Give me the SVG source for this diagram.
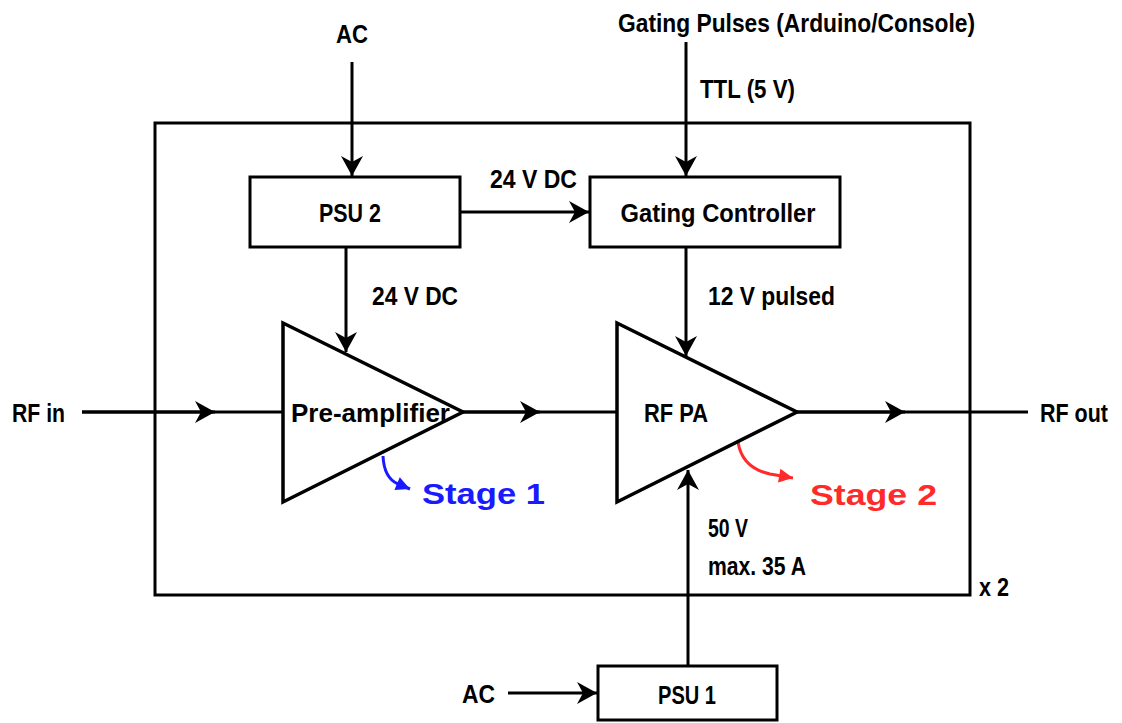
<svg xmlns="http://www.w3.org/2000/svg" width="1122" height="723" viewBox="0 0 1122 723">
  <style>
    .box { fill: #ffffff; stroke: #000000; stroke-width: 3; }
    .frame { fill: none; stroke: #000000; stroke-width: 3; }
    .amp { fill: #ffffff; stroke: #000000; stroke-width: 3.5; stroke-linejoin: miter; }
    .wire { fill: none; stroke: #000000; stroke-width: 3; }
    .lbl { font-family: "Liberation Sans Narrow", "Liberation Sans", Arial, sans-serif; font-weight: bold; font-size: 26px; fill: #000000; }
    .stage { font-family: "Liberation Sans", Arial, sans-serif; font-weight: bold; font-size: 30px; }
  </style>
  <defs>
    <marker id="head" viewBox="-22 -12 24 24" markerWidth="24" markerHeight="24" refX="0" refY="0" orient="auto" markerUnits="userSpaceOnUse">
      <path d="M0,0 L-20,-11 L-14,0 L-20,11 Z" fill="#000000"/>
    </marker>
    <marker id="headBlue" viewBox="-16 -8 18 16" markerWidth="18" markerHeight="16" refX="0" refY="0" orient="auto" markerUnits="userSpaceOnUse">
      <path d="M0,0 L-14,-7 L-14,7 Z" fill="#1a1aff"/>
    </marker>
    <marker id="headRed" viewBox="-16 -8 18 16" markerWidth="18" markerHeight="16" refX="0" refY="0" orient="auto" markerUnits="userSpaceOnUse">
      <path d="M0,0 L-14,-7 L-14,7 Z" fill="#ff2a2a"/>
    </marker>
  </defs>

  <!-- enclosure, repeated twice -->
  <g id="enclosure">
    <rect class="frame" x="155" y="123" width="815" height="472"/>
    <text class="lbl" x="979" y="596" textLength="30" lengthAdjust="spacingAndGlyphs">x 2</text>
  </g>

  <!-- signal and supply connectors -->
  <g id="connectors">
    <!-- AC into PSU 2 -->
    <line class="wire" x1="352" y1="62" x2="352" y2="176" marker-end="url(#head)"/>
    <!-- gating pulses into controller -->
    <line class="wire" x1="686" y1="42" x2="686" y2="176" marker-end="url(#head)"/>
    <!-- PSU 2 to gating controller -->
    <line class="wire" x1="460" y1="212" x2="589" y2="212" marker-end="url(#head)"/>
    <!-- PSU 2 to pre-amplifier -->
    <line class="wire" x1="346" y1="247" x2="346" y2="352" marker-end="url(#head)"/>
    <!-- gating controller to RF PA -->
    <line class="wire" x1="686" y1="247" x2="686" y2="356" marker-end="url(#head)"/>
    <!-- RF path -->
    <line class="wire" x1="82" y1="412" x2="283" y2="412"/>
    <line class="wire" x1="82" y1="412" x2="215" y2="412" marker-end="url(#head)"/>
    <line class="wire" x1="463" y1="412" x2="617" y2="412"/>
    <line class="wire" x1="463" y1="412" x2="540" y2="412" marker-end="url(#head)"/>
    <line class="wire" x1="797" y1="412" x2="1028" y2="412"/>
    <line class="wire" x1="797" y1="412" x2="905" y2="412" marker-end="url(#head)"/>
    <!-- PSU 1 to RF PA -->
    <line class="wire" x1="688" y1="666" x2="688" y2="470" marker-end="url(#head)"/>
    <!-- AC into PSU 1 -->
    <line class="wire" x1="508" y1="693" x2="597" y2="693" marker-end="url(#head)"/>
    <!-- stage callouts -->
    <path d="M383,456 Q384,478 398,484 L410,489" fill="none" stroke="#1a1aff" stroke-width="3" marker-end="url(#headBlue)"/>
    <path d="M738,442 Q742,468 770,474 L793,478" fill="none" stroke="#ff2a2a" stroke-width="3" marker-end="url(#headRed)"/>
  </g>

  <g id="ac-top">
    <text class="lbl" x="352" y="43" text-anchor="middle" textLength="32" lengthAdjust="spacingAndGlyphs">AC</text>
  </g>
  <g id="gating-pulses">
    <text class="lbl" x="618" y="32" textLength="357" lengthAdjust="spacingAndGlyphs">Gating Pulses (Arduino/Console)</text>
    <text class="lbl" x="700" y="98" textLength="95" lengthAdjust="spacingAndGlyphs">TTL (5 V)</text>
  </g>

  <g id="psu2">
    <rect class="box" x="250" y="177" width="210" height="70"/>
    <text class="lbl" x="350" y="222" text-anchor="middle" textLength="62" lengthAdjust="spacingAndGlyphs">PSU 2</text>
  </g>
  <text class="lbl" x="490" y="188" textLength="87" lengthAdjust="spacingAndGlyphs">24 V DC</text>

  <g id="gating-controller">
    <rect class="box" x="590" y="177" width="250" height="70"/>
    <text class="lbl" x="718" y="222" text-anchor="middle" textLength="195" lengthAdjust="spacingAndGlyphs">Gating Controller</text>
  </g>

  <text class="lbl" x="372" y="305" textLength="86" lengthAdjust="spacingAndGlyphs">24 V DC</text>
  <text class="lbl" x="708" y="305" textLength="127" lengthAdjust="spacingAndGlyphs">12 V pulsed</text>

  <g id="pre-amplifier">
    <polygon class="amp" points="283,323 463,412 283,502"/>
    <text class="lbl" x="291" y="422" textLength="159" lengthAdjust="spacingAndGlyphs">Pre-amplifier</text>
  </g>

  <g id="rf-pa">
    <polygon class="amp" points="617,323 797,412 617,502"/>
    <text class="lbl" x="644" y="422" textLength="64" lengthAdjust="spacingAndGlyphs">RF PA</text>
  </g>

  <g id="rf-in">
    <text class="lbl" x="12" y="422" textLength="53" lengthAdjust="spacingAndGlyphs">RF in</text>
  </g>
  <g id="rf-out">
    <text class="lbl" x="1040" y="422" textLength="68" lengthAdjust="spacingAndGlyphs">RF out</text>
  </g>

  <g id="stage1">
    <text class="stage" x="422" y="504" fill="#1a1aff" textLength="123" lengthAdjust="spacingAndGlyphs">Stage 1</text>
  </g>
  <g id="stage2">
    <text class="stage" x="810" y="505" fill="#ff2a2a" textLength="127" lengthAdjust="spacingAndGlyphs">Stage 2</text>
  </g>

  <text class="lbl" x="708" y="537" textLength="40" lengthAdjust="spacingAndGlyphs">50 V</text>
  <text class="lbl" x="708" y="575" textLength="98" lengthAdjust="spacingAndGlyphs">max. 35 A</text>

  <g id="ac-bottom">
    <text class="lbl" x="462" y="703" textLength="33" lengthAdjust="spacingAndGlyphs">AC</text>
  </g>
  <g id="psu1">
    <rect class="box" x="598" y="666" width="179" height="54"/>
    <text class="lbl" x="687" y="704" text-anchor="middle" textLength="58" lengthAdjust="spacingAndGlyphs">PSU 1</text>
  </g>
</svg>
